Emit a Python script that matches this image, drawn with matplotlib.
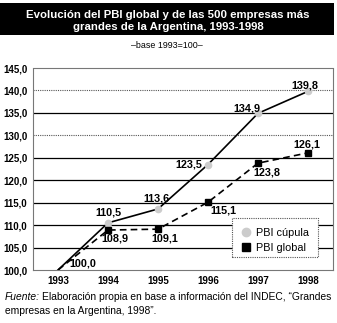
import matplotlib
matplotlib.use("Agg")
import matplotlib.pyplot as plt
from matplotlib.patches import Rectangle
from matplotlib.lines import Line2D

plt.rcParams['font.family'] = ['Liberation Sans', 'DejaVu Sans']

years = [1993, 1994, 1995, 1996, 1997, 1998]
cupula = [100.0, 110.5, 113.6, 123.5, 134.9, 139.8]
global_ = [100.0, 108.9, 109.1, 115.1, 123.8, 126.1]
yticks = [100, 105, 110, 115, 120, 125, 130, 135, 140, 145]

# label offsets in pixels (dx right, dy down) relative to each point
cup_off = [(25, -6), (0, -10), (-2, -10), (-19, 0), (-11, -5), (-3.5, -6)]
glo_off = [None, (6.5, 8), (7, 9), (15.5, 8), (9, 9), (-1, -8)]

def fmt(v):
    return f"{v:.1f}".replace(".", ",")

W, H = 337, 323
fig = plt.figure(figsize=(W/100, H/100), dpi=100)
ax = fig.add_axes([33/W, 1-270/H, 300/W, 202/H])

# title box
fig.patches.append(Rectangle((0, 1-35/H), 334/W, 32/H, transform=fig.transFigure,
                             facecolor='black', edgecolor='none'))
fig.text(168/W, 1-14.5/H, "Evolución del PBI global y de las 500 empresas más",
         color='white', fontsize=8.2, fontweight='bold', ha='center', va='center')
fig.text(168/W, 1-26.5/H, "grandes de la Argentina, 1993-1998",
         color='white', fontsize=8.2, fontweight='bold', ha='center', va='center')
fig.text(167/W, 1-45.5/H, "–base 1993=100–", fontsize=6.4, ha='center', va='center')

# grid
for y in yticks[1:-1]:
    if y in (130, 140):
        ax.axhline(y, color='#555555', lw=0.8, ls=(0, (1, 1)), zorder=1)
    else:
        ax.axhline(y, color='black', lw=0.9, zorder=1)

ax.plot(years, cupula, color='black', lw=1.2, zorder=3)
ax.plot(years[1:], cupula[1:], ls='none', marker='o', ms=4.5, mfc='#cccccc', mec='#cccccc', zorder=4)
ax.plot(years, global_, color='black', lw=1.2, ls=(0, (4, 2.5)), zorder=3)
ax.plot(years[1:], global_[1:], ls='none', marker='s', ms=4.5, mfc='black', mec='black', zorder=4)

ax.set_xlim(1992.5, 1998.5)
ax.set_ylim(100, 145)
ax.set_xticks(years)
ax.set_xticklabels([str(y) for y in years], fontsize=7, fontweight='bold')
ax.set_yticks(yticks)
ax.set_yticklabels([fmt(v) for v in yticks], fontsize=7, fontweight='bold')
ax.tick_params(length=0, pad=4)
for s in ax.spines.values():
    s.set_color('#777777')
    s.set_linewidth(0.8)
    s.set_linestyle((0, (1, 1)))

lab = dict(fontsize=7.8, fontweight='bold', zorder=5, ha='center', va='center',
           textcoords='offset pixels')
for x, v, o in zip(years, cupula, cup_off):
    ax.annotate(fmt(v), (x, v), xytext=(o[0], -o[1]), **lab)
for x, v, o in zip(years, global_, glo_off):
    if o is None:
        continue
    ax.annotate(fmt(v), (x, v), xytext=(o[0], -o[1]), **lab)

# legend
ax.add_patch(Rectangle(((232-33)/300, (270-257)/202), 86/300, 39/202, transform=ax.transAxes,
                       facecolor='white', edgecolor='#555555', lw=0.8, ls=(0, (1, 1)), zorder=6))
handles = [Line2D([], [], ls='none', marker='o', ms=6, mfc='#cccccc', mec='#cccccc'),
           Line2D([], [], ls='none', marker='s', ms=6, mfc='black', mec='black')]
leg = ax.legend(handles, ['PBI cúpula', 'PBI global'], loc='upper left',
                bbox_to_anchor=((233-33)/300, (270-219)/202), fontsize=7.8,
                frameon=False, handlelength=0.8, handletextpad=0.5,
                borderpad=0.3, labelspacing=0.45)
leg.set_zorder(7)

fy1, fy2 = 296.5, 311
t1 = fig.text(5/W, 1-fy1/H, "Fuente:", fontsize=7.4, style='italic', va='center', ha='left')
fig.canvas.draw()
bb = t1.get_window_extent()
fig.text((bb.x1 + 2)/W, 1-fy1/H, "Elaboración propia en base a información del INDEC, “Grandes",
         fontsize=7.4, va='center', ha='left')
fig.text(5/W, 1-fy2/H, "empresas en la Argentina, 1998”.", fontsize=7.4, va='center', ha='left')

fig.savefig("out.png", dpi=100)
